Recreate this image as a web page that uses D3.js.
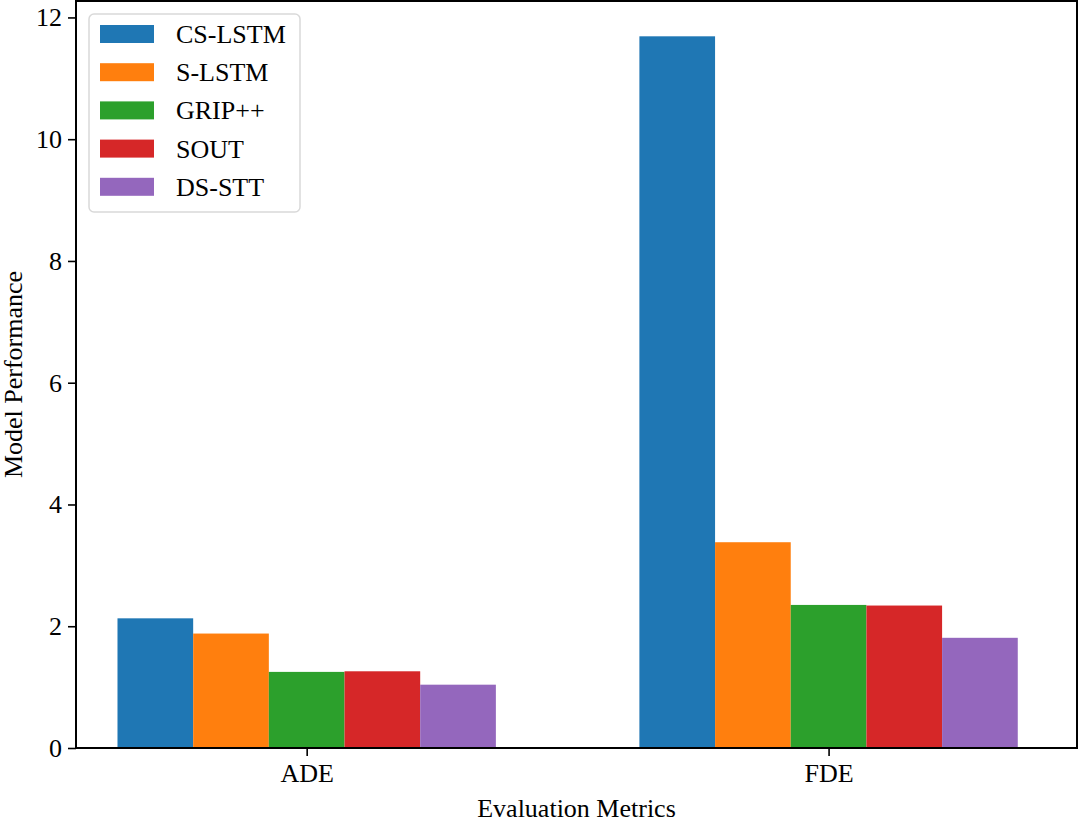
<!DOCTYPE html>
<html>
<head>
<meta charset="utf-8">
<script src="https://cdn.jsdelivr.net/npm/d3@7"></script>
<style>
  html, body { margin: 0; padding: 0; background: #fff; }
  svg { display: block; }
  text { font-family: "Liberation Serif", "DejaVu Serif", serif; fill: #000; }
</style>
</head>
<body>
<svg id="chart" width="1080" height="824"></svg>
<script>
const categories = ["ADE", "FDE"];
const models = ["CS-LSTM", "S-LSTM", "GRIP++", "SOUT", "DS-STT"];
const colors = ["#1f77b4", "#ff7f0e", "#2ca02c", "#d62728", "#9467bd"];
const csLstm = [2.13, 11.69];
const sLstm  = [1.88, 3.38];
const gripPP = [1.25, 2.35];
const sout   = [1.26, 2.34];
const dsStt  = [1.04, 1.81];
const seriesValues = [csLstm, sLstm, gripPP, sout, dsStt];
const yTicks = [0, 2, 4, 6, 8, 10, 12];

(function () {
const svg = d3.select("#chart");
const pL = 76, pR = 1077, pT = 1, pB = 748;
const barW = 0.145;

const x = d3.scaleLinear().domain([-0.442, 1.476]).range([pL, pR]);
const y = d3.scaleLinear().domain([0, 12.27]).range([pB, pT]);

// bars
models.forEach((m, i) => {
  const vals = seriesValues[i];
  svg.append("g").selectAll("rect").data(vals).join("rect")
    .attr("x", (d, j) => x(j + (i - 2.5) * barW))
    .attr("width", x(barW) - x(0))
    .attr("y", d => y(d))
    .attr("height", d => y(0) - y(d))
    .attr("fill", colors[i]);
});

// frame
svg.append("rect").attr("x", pL).attr("y", pT)
  .attr("width", pR - pL).attr("height", pB - pT)
  .attr("fill", "none").attr("stroke", "#000").attr("stroke-width", 2);

// y axis
const yAxis = d3.axisLeft(y).tickValues(yTicks).tickSize(8).tickPadding(6).tickFormat(d3.format("d"));
const gy = svg.append("g").attr("transform", `translate(${pL},0)`).call(yAxis);
gy.select(".domain").remove();
gy.selectAll(".tick line").attr("stroke", "#000").attr("stroke-width", 1.6);
gy.selectAll(".tick text").attr("font-size", 26).attr("font-family", "Liberation Serif").attr("fill", "#000");

// x axis
const xAxis = d3.axisBottom(x).tickValues([0, 1]).tickSize(8).tickPadding(8).tickFormat(i => categories[i]);
const gx = svg.append("g").attr("transform", `translate(0,${pB})`).call(xAxis);
gx.select(".domain").remove();
gx.selectAll(".tick line").attr("stroke", "#000").attr("stroke-width", 1.6);
gx.selectAll(".tick text").attr("font-size", 26).attr("font-family", "Liberation Serif").attr("fill", "#000");

// axis labels
svg.append("text").attr("x", (pL + pR) / 2).attr("y", 817)
  .attr("text-anchor", "middle").attr("font-size", 26).text("Evaluation Metrics");
svg.append("text").attr("transform", `translate(22,${(pT + pB) / 2}) rotate(-90)`)
  .attr("text-anchor", "middle").attr("font-size", 26).text("Model Performance");

// legend
const lg = svg.append("g");
lg.append("rect").attr("x", 89).attr("y", 14).attr("width", 211).attr("height", 198)
  .attr("rx", 5).attr("fill", "#fff").attr("fill-opacity", 0.8)
  .attr("stroke", "#d9d9d9").attr("stroke-width", 1.5);
models.forEach((m, i) => {
  const cy = 34 + i * 38.2;
  lg.append("rect").attr("x", 100).attr("y", cy - 9).attr("width", 54).attr("height", 18)
    .attr("fill", colors[i]);
  lg.append("text").attr("x", 176).attr("y", cy + 9).attr("font-size", 26).text(m);
});
})();
</script>
</body>
</html>
